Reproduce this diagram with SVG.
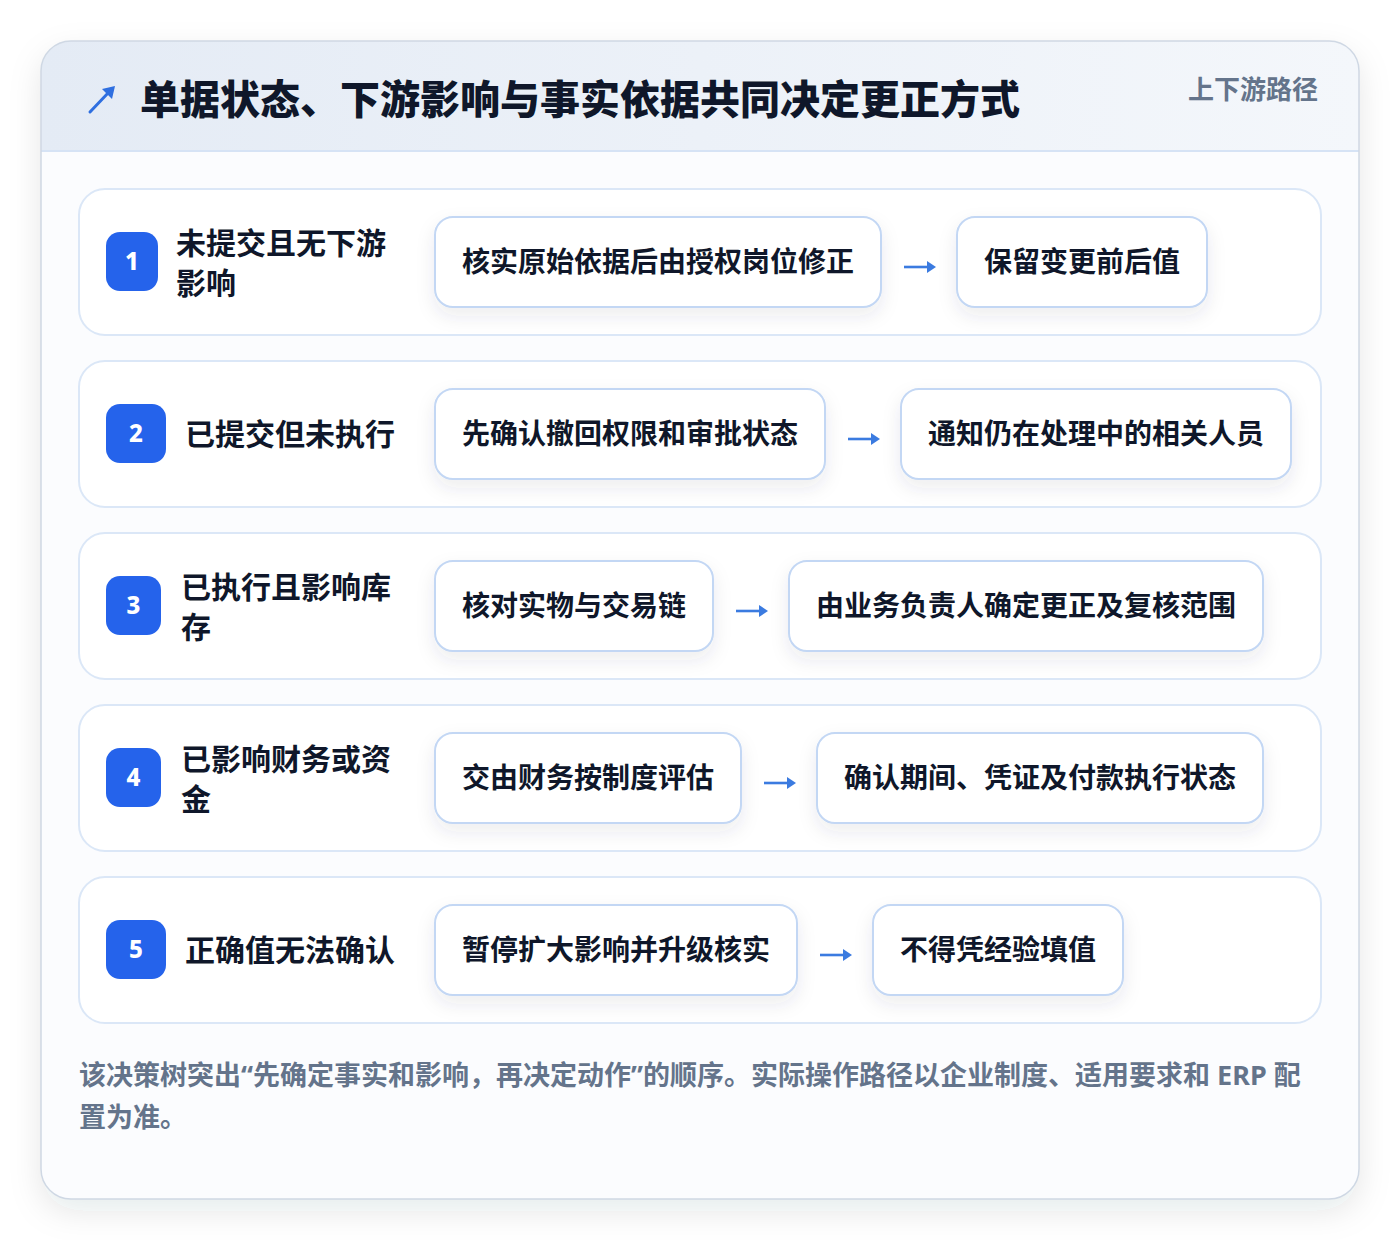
<svg xmlns="http://www.w3.org/2000/svg" width="1400" height="1240" viewBox="0 0 1400 1240">
<style>
  text { font-family: "Noto Sans CJK SC", "Noto Sans", "Liberation Sans", sans-serif; font-weight: 700; }
  .title { font-size: 40px; fill: #0f172a; font-weight: 900; }
  .tag { font-size: 26px; fill: #64748b; }
  .row { fill: #ffffff; stroke: #dbe7f7; stroke-width: 2; }
  .badge { fill: #2563eb; }
  .num { font-family: "Noto Sans", "Liberation Sans", sans-serif; font-size: 24px; font-weight: 800; fill: #ffffff; text-anchor: middle; }
  .label { font-size: 30px; fill: #0f172a; }
  .step { fill: #ffffff; stroke: #c3d7f4; stroke-width: 2; }
  .stext { font-size: 28px; fill: #0f172a; }
  .arrow line { stroke: #3b7be0; stroke-width: 2.6; }
  .arrow polygon { fill: #3b7be0; }
  .foot { font-family: "Noto Sans", "Noto Sans CJK SC", sans-serif; font-size: 27px; fill: #64748b; }
</style>
<defs>
  <linearGradient id="hdr" x1="0" y1="0" x2="1" y2="0">
    <stop offset="0" stop-color="#e4ebf5"/>
    <stop offset="1" stop-color="#f4f7fb"/>
  </linearGradient>
  <filter id="cardShadow" x="-10%" y="-10%" width="120%" height="125%">
    <feDropShadow dx="0" dy="12" stdDeviation="16" flood-color="#1e293b" flood-opacity="0.10"/>
  </filter>
  <filter id="boxShadow" x="-20%" y="-30%" width="140%" height="180%">
    <feDropShadow dx="0" dy="8" stdDeviation="9" flood-color="#334155" flood-opacity="0.09"/>
  </filter>
  <clipPath id="cardClip">
    <rect x="41" y="41" width="1318" height="1158" rx="30"/>
  </clipPath>
</defs>

<rect width="1400" height="1240" fill="#ffffff"/>

<g id="card">
  <rect x="41" y="41" width="1318" height="1158" rx="30" fill="#fbfcfe" filter="url(#cardShadow)"/>
  <g clip-path="url(#cardClip)">
    <rect x="41" y="41" width="1318" height="110" fill="url(#hdr)"/>
    <line x1="41" y1="151" x2="1359" y2="151" stroke="#d6e3f5" stroke-width="2"/>
  </g>
  <rect x="41" y="41" width="1318" height="1158" rx="30" fill="none" stroke="#cfd8e4" stroke-width="1.5"/>
</g>

<g id="header">
  <g id="icon">
    <line x1="90" y1="112" x2="109" y2="92" stroke="#2f6fe0" stroke-width="3" stroke-linecap="round"/>
    <polygon points="115,86 112,99 102,89" fill="#2f6fe0"/>
  </g>
  <text class="title" x="140" y="114">单据状态、下游影响与事实依据共同决定更正方式</text>
  <text class="tag" x="1188" y="99">上下游路径</text>
</g>

<g id="row1">
  <rect class="row" x="79" y="189" width="1242" height="146" rx="26"/>
  <rect class="badge" x="106" y="232" width="52" height="59" rx="14"/>
  <text class="num" x="132" y="270">1</text>
  <text class="label" x="176" y="254">未提交且无下游</text>
  <text class="label" x="176" y="294">影响</text>
  <g id="r1a"><rect class="step" x="435" y="217" width="446" height="90" rx="18" filter="url(#boxShadow)"/><text class="stext" x="462" y="272">核实原始依据后由授权岗位修正</text></g>
  <g id="r1b"><rect class="step" x="957" y="217" width="250" height="90" rx="18" filter="url(#boxShadow)"/><text class="stext" x="984" y="272">保留变更前后值</text></g>
</g>

<g id="row2">
  <rect class="row" x="79" y="361" width="1242" height="146" rx="26"/>
  <rect class="badge" x="106" y="404" width="60" height="59" rx="14"/>
  <text class="num" x="136" y="442">2</text>
  <text class="label" x="185" y="445">已提交但未执行</text>
  <g id="r2a"><rect class="step" x="435" y="389" width="390" height="90" rx="18" filter="url(#boxShadow)"/><text class="stext" x="462" y="444">先确认撤回权限和审批状态</text></g>
  <g id="r2b"><rect class="step" x="901" y="389" width="390" height="90" rx="18" filter="url(#boxShadow)"/><text class="stext" x="928" y="444">通知仍在处理中的相关人员</text></g>
</g>

<g id="row3">
  <rect class="row" x="79" y="533" width="1242" height="146" rx="26"/>
  <rect class="badge" x="106" y="576" width="55" height="59" rx="14"/>
  <text class="num" x="133.5" y="614">3</text>
  <text class="label" x="181" y="598">已执行且影响库</text>
  <text class="label" x="181" y="638">存</text>
  <g id="r3a"><rect class="step" x="435" y="561" width="278" height="90" rx="18" filter="url(#boxShadow)"/><text class="stext" x="462" y="616">核对实物与交易链</text></g>
  <g id="r3b"><rect class="step" x="789" y="561" width="474" height="90" rx="18" filter="url(#boxShadow)"/><text class="stext" x="816" y="616">由业务负责人确定更正及复核范围</text></g>
</g>

<g id="row4">
  <rect class="row" x="79" y="705" width="1242" height="146" rx="26"/>
  <rect class="badge" x="106" y="748" width="55" height="59" rx="14"/>
  <text class="num" x="133.5" y="786">4</text>
  <text class="label" x="181" y="770">已影响财务或资</text>
  <text class="label" x="181" y="810">金</text>
  <g id="r4a"><rect class="step" x="435" y="733" width="306" height="90" rx="18" filter="url(#boxShadow)"/><text class="stext" x="462" y="788">交由财务按制度评估</text></g>
  <g id="r4b"><rect class="step" x="817" y="733" width="446" height="90" rx="18" filter="url(#boxShadow)"/><text class="stext" x="844" y="788">确认期间、凭证及付款执行状态</text></g>
</g>

<g id="row5">
  <rect class="row" x="79" y="877" width="1242" height="146" rx="26"/>
  <rect class="badge" x="106" y="920" width="60" height="59" rx="14"/>
  <text class="num" x="136" y="958">5</text>
  <text class="label" x="185" y="961">正确值无法确认</text>
  <g id="r5a"><rect class="step" x="435" y="905" width="362" height="90" rx="18" filter="url(#boxShadow)"/><text class="stext" x="462" y="960">暂停扩大影响并升级核实</text></g>
  <g id="r5b"><rect class="step" x="873" y="905" width="250" height="90" rx="18" filter="url(#boxShadow)"/><text class="stext" x="900" y="960">不得凭经验填值</text></g>
</g>

<g id="connectors" class="arrow">
  <line x1="904" y1="267" x2="931" y2="267"/><polygon points="927,261 936,267 927,273"/>
  <line x1="848" y1="439" x2="875" y2="439"/><polygon points="871,433 880,439 871,445"/>
  <line x1="736" y1="611" x2="763" y2="611"/><polygon points="759,605 768,611 759,617"/>
  <line x1="764" y1="783" x2="791" y2="783"/><polygon points="787,777 796,783 787,789"/>
  <line x1="820" y1="955" x2="847" y2="955"/><polygon points="843,949 852,955 843,961"/>
</g>

<g id="footer">
  <text class="foot" x="79" y="1085">该决策树突出“先确定事实和影响，再决定动作”的顺序。实际操作路径以企业制度、适用要求和 ERP 配</text>
  <text class="foot" x="79" y="1127">置为准。</text>
</g>
</svg>
